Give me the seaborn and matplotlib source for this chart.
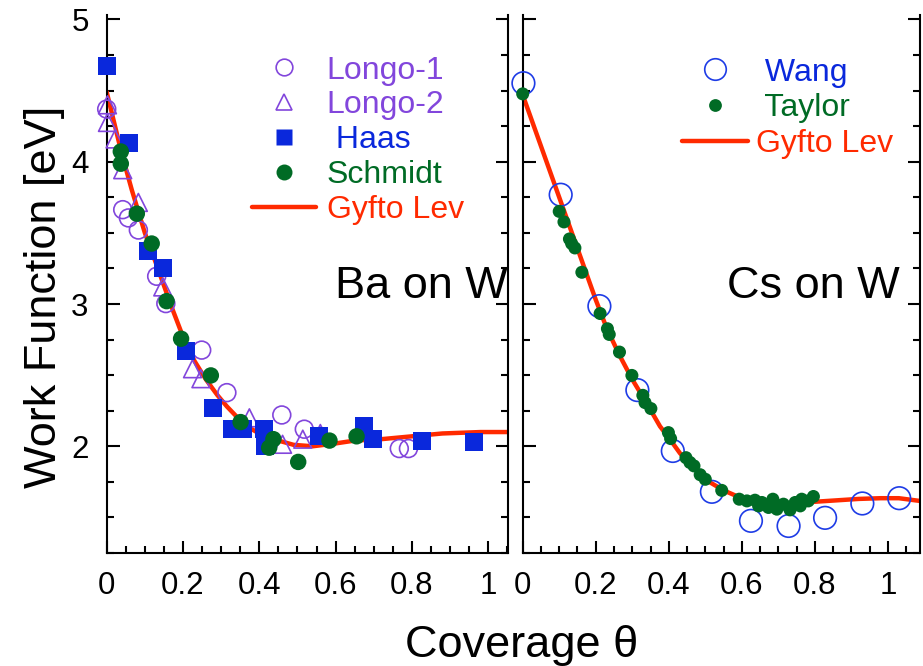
import numpy as np
import pandas as pd
import matplotlib
matplotlib.use("Agg")
import matplotlib.pyplot as plt
from matplotlib.lines import Line2D
from matplotlib.ticker import MultipleLocator
import seaborn as sns

# ---------------- data: Ba on W ----------------
longo1_x = [0.0, 0.042, 0.057, 0.083, 0.131, 0.155, 0.249, 0.315, 0.459, 0.518, 0.767, 0.791]
longo1_y = [4.37, 3.663, 3.605, 3.52, 3.195, 3.003, 2.676, 2.377, 2.22, 2.12, 1.984, 1.984]

longo2_x = [0.002, 0.002, 0.022, 0.042, 0.083, 0.147, 0.225, 0.247, 0.374, 0.461, 0.514, 0.56]
longo2_y = [4.40, 4.276, 4.16, 3.944, 3.714, 3.12, 2.545, 2.475, 2.20, 2.014, 2.05, 2.09]

haas_x = [0.0, 0.059, 0.109, 0.147, 0.208, 0.279, 0.328, 0.358, 0.413, 0.415, 0.557, 0.674, 0.697, 0.826, 0.963]
haas_y = [4.674, 4.13, 3.37, 3.254, 2.669, 2.27, 2.12, 2.124, 2.12, 2.0, 2.07, 2.14, 2.05, 2.04, 2.03]

schmidt_x = [0.037, 0.037, 0.079, 0.118, 0.157, 0.195, 0.273, 0.351, 0.426, 0.437, 0.502, 0.584, 0.655]
schmidt_y = [4.072, 3.986, 3.635, 3.425, 3.02, 2.756, 2.498, 2.17, 1.99, 2.05, 1.89, 2.04, 2.07]

gyfto_ba_x = [0.0, 0.02, 0.04, 0.066, 0.10, 0.13, 0.17, 0.20, 0.23, 0.26, 0.29, 0.315, 0.34, 0.367,
              0.40, 0.437, 0.49, 0.54, 0.60, 0.65, 0.72, 0.80, 0.88, 0.98, 1.06]
gyfto_ba_y = [4.49, 4.27, 4.05, 3.80, 3.50, 3.28, 2.98, 2.77, 2.60, 2.47, 2.36, 2.28, 2.21, 2.14,
              2.09, 2.05, 2.01, 2.00, 2.02, 2.04, 2.05, 2.07, 2.09, 2.10, 2.10]

# ---------------- data: Cs on W ----------------
wang_x = [0.002, 0.104, 0.21, 0.314, 0.411, 0.518, 0.625, 0.728, 0.828, 0.93, 1.031]
wang_y = [4.552, 3.768, 2.985, 2.395, 1.967, 1.68, 1.476, 1.44, 1.497, 1.598, 1.635]

taylor_x = [0.0, 0.10, 0.113, 0.128, 0.134, 0.143, 0.162, 0.212, 0.232, 0.237, 0.265, 0.299,
            0.329, 0.335, 0.351, 0.399, 0.405, 0.447, 0.458, 0.469, 0.486, 0.50, 0.545, 0.593,
            0.614, 0.636, 0.646, 0.655, 0.673, 0.685, 0.691, 0.696, 0.714, 0.732, 0.746, 0.76,
            0.764, 0.782, 0.796]
taylor_y = [4.477, 3.651, 3.577, 3.457, 3.425, 3.394, 3.223, 2.933, 2.826, 2.786, 2.662, 2.498,
            2.358, 2.307, 2.265, 2.096, 2.054, 1.92, 1.886, 1.862, 1.80, 1.768, 1.69, 1.628,
            1.616, 1.621, 1.581, 1.605, 1.57, 1.628, 1.593, 1.558, 1.593, 1.553, 1.605, 1.581,
            1.628, 1.616, 1.647]

gyfto_cs_x = [0.0, 0.05, 0.10, 0.15, 0.20, 0.23, 0.265, 0.30, 0.34, 0.376, 0.40, 0.431, 0.47,
              0.504, 0.55, 0.595, 0.65, 0.70, 0.75, 0.80, 0.86, 0.92, 0.98, 1.03, 1.09]
gyfto_cs_y = [4.47, 4.11, 3.75, 3.39, 3.03, 2.83, 2.64, 2.47, 2.30, 2.14, 2.06, 1.95, 1.85,
              1.76, 1.69, 1.64, 1.61, 1.60, 1.60, 1.61, 1.62, 1.63, 1.635, 1.635, 1.615]

x_ticks = [0, 0.2, 0.4, 0.6, 0.8, 1]
x_ticklabels = ["0", "0.2", "0.4", "0.6", "0.8", "1"]
y_ticks = [2, 3, 4, 5]
y_ticklabels = ["2", "3", "4", "5"]

PURPLE = "#8246dc"
BLUE = "#0a28dc"
GREEN = "#006b25"
RED = "#ff2a00"
WANG_BLUE = "#1e3ce6"

sns.set_style("ticks")
plt.rcParams["font.family"] = ["Liberation Sans", "DejaVu Sans"]
plt.rcParams["text.color"] = "black"
plt.rcParams["axes.labelcolor"] = "black"
plt.rcParams["xtick.color"] = "black"
plt.rcParams["ytick.color"] = "black"

fig = plt.figure(figsize=(9.23, 6.66), dpi=100)
axL = fig.add_axes([0.1156, 0.1697, 0.4348, 0.8075])
axR = fig.add_axes([0.5663, 0.1697, 0.4305, 0.8075])

# ---- left panel ----
sns.lineplot(x=gyfto_ba_x, y=gyfto_ba_y, ax=axL, color=RED, linewidth=3.2,
             sort=False, estimator=None, zorder=1)
sns.scatterplot(x=longo1_x, y=longo1_y, ax=axL, marker="o", s=165, facecolor="none",
                edgecolor=PURPLE, linewidth=1.2, zorder=3, clip_on=False)
sns.scatterplot(x=longo2_x, y=longo2_y, ax=axL, marker="^", s=165, facecolor="none",
                edgecolor=PURPLE, linewidth=1.2, zorder=3, clip_on=False)
sns.scatterplot(x=haas_x, y=haas_y, ax=axL, marker="s", s=165, color=BLUE,
                edgecolor="none", linewidth=0, zorder=4, clip_on=False)
sns.scatterplot(x=schmidt_x, y=schmidt_y, ax=axL, marker="o", s=140, color=GREEN,
                edgecolor="none", linewidth=0, zorder=5, clip_on=False)

# ---- right panel ----
sns.lineplot(x=gyfto_cs_x, y=gyfto_cs_y, ax=axR, color=RED, linewidth=3.2,
             sort=False, estimator=None, zorder=1)
sns.scatterplot(x=wang_x, y=wang_y, ax=axR, marker="o", s=265, facecolor="none",
                edgecolor=WANG_BLUE, linewidth=1.2, zorder=3, clip_on=False)
sns.scatterplot(x=taylor_x, y=taylor_y, ax=axR, marker="o", s=88, color=GREEN,
                edgecolor="none", linewidth=0, zorder=4, clip_on=False)

for ax, xmax in ((axL, 1.052), (axR, 1.088)):
    ax.set_xlim(0, xmax)
    ax.set_ylim(1.25, 5.03)
    ax.set_xticks(x_ticks)
    ax.set_xticklabels(x_ticklabels)
    ax.set_yticks(y_ticks)
    ax.xaxis.set_minor_locator(MultipleLocator(0.05))
    ax.yaxis.set_minor_locator(MultipleLocator(0.25))
    ax.tick_params(which="both", direction="in", left=True, right=True, top=False,
                   bottom=True, width=1.5, colors="black", labelsize=22.5, pad=13)
    ax.tick_params(which="major", length=9)
    ax.tick_params(which="minor", length=5)
    ax.spines["top"].set_visible(False)
    for s in ("left", "right", "bottom"):
        ax.spines[s].set_linewidth(1.5)
        ax.spines[s].set_color("black")
    ax.set_xlabel("")
    ax.set_ylabel("")
axR.tick_params(labelleft=False)
axL.set_yticklabels(y_ticklabels)

# legends
hL = [
    Line2D([], [], linestyle="none", marker="o", markersize=12.0, markerfacecolor="none",
           markeredgecolor=PURPLE, markeredgewidth=1.2),
    Line2D([], [], linestyle="none", marker="^", markersize=12.0, markerfacecolor="none",
           markeredgecolor=PURPLE, markeredgewidth=1.2),
    Line2D([], [], linestyle="none", marker="s", markersize=12.0, markerfacecolor=BLUE,
           markeredgecolor="none"),
    Line2D([], [], linestyle="none", marker="o", markersize=11.5, markerfacecolor=GREEN,
           markeredgecolor="none"),
    Line2D([], [], color=RED, linewidth=3.2),
]
legL = axL.legend(hL, ["Longo-1", "Longo-2", " Haas", "Schmidt", "Gyfto Lev"],
                  loc="upper left", bbox_to_anchor=(0.361, 0.925), borderaxespad=0,
                  borderpad=0, frameon=False, fontsize=23, handlelength=2.03,
                  handletextpad=0.32, labelspacing=0.15,
                  labelcolor=[PURPLE, PURPLE, BLUE, GREEN, RED])

hR = [
    Line2D([], [], linestyle="none", marker="o", markersize=15.5, markerfacecolor="none",
           markeredgecolor=WANG_BLUE, markeredgewidth=1.2),
    Line2D([], [], linestyle="none", marker="o", markersize=9.2, markerfacecolor=GREEN,
           markeredgecolor="none"),
    Line2D([], [], color=RED, linewidth=3.2),
]
legR = axR.legend(hR, [" Wang", " Taylor", "Gyfto Lev"],
                  loc="upper left", bbox_to_anchor=(0.40, 0.921), borderaxespad=0,
                  borderpad=0, frameon=False, fontsize=23, handlelength=2.08,
                  handletextpad=0.26, labelspacing=0.18,
                  labelcolor=[BLUE, GREEN, RED])

axL.text(0.569, 0.495, "Ba on W", transform=axL.transAxes, fontsize=32.5,
         ha="left", va="center", color="black")
axR.text(0.514, 0.495, "Cs on W", transform=axR.transAxes, fontsize=32.5,
         ha="left", va="center", color="black")

fig.text(521.5 / 923, 0.0135, "Coverage θ", ha="center", va="baseline", fontsize=32.5,
         color="black")
fig.text(45 / 923, 1 - 297 / 666, "Work Function [eV]", ha="center", va="center",
         rotation=90, fontsize=32.5, color="black")

fig.savefig("out.png", dpi=100)
